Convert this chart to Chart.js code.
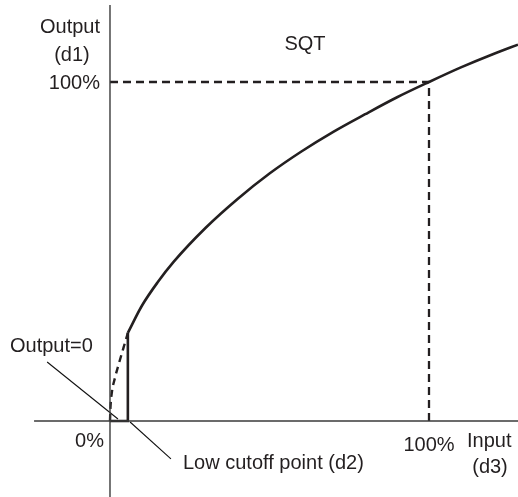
<!DOCTYPE html>
<html lang="en">
<head>
  <meta charset="UTF-8" />
  <title>SQT</title>
  <script src="https://cdn.jsdelivr.net/npm/chart.js"></script>
  <style>
    html, body { margin: 0; padding: 0; background: #fff; }
    canvas { display: block; }
  </style>
</head>
<body>
  <canvas id="sqtChart" width="518" height="497"></canvas>

  <script>
    // Square root characteristic: input % -> output %
    const curveIn  = [5.6, 10, 15, 20, 30, 40, 50, 60, 70, 80, 90, 100, 110, 120, 127.9];
    const curveOut = [26, 34, 41, 47, 57, 65.5, 73, 79.5, 85.3, 90.5, 95.5, 100, 104.3, 108.2, 111];

    // Part below the low cutoff (not used, shown dashed)
    const belowIn  = [0, 0.15, 0.6, 1.5, 2.8, 4.2, 5.6];
    const belowOut = [0, 4, 8.5, 12.5, 17, 21.5, 26];

    // Low cutoff point (d2): output is forced to 0 up to here
    const cutoffIn = 5.6;
    const cutoffOut = 26;

    // 100% reference
    const fullScale = 100;

    // Plot window in percent
    const xRange = [-34.48, 127.9];
    const yRange = [-22.42, 124.19];

    // Axis line ends
    const xAxisFrom = -23.8;
    const yAxisTop = 122.7;

    // Leader lines for the two callouts
    const leaderZeroIn  = [-19.7, 2.5];
    const leaderZeroOut = [17.4, 0.6];
    const leaderCutIn   = [6.3, 19.1];
    const leaderCutOut  = [-0.3, -11.2];

    const ink = '#231f20';

    function pts(xs, ys) {
      return xs.map((x, i) => ({ x: x, y: ys[i] }));
    }

    function seg(data, width, dash, color) {
      return {
        data: data,
        showLine: true,
        borderColor: color || ink,
        borderWidth: width,
        borderDash: dash || [],
        pointRadius: 0,
        clip: false,
      };
    }

    const datasets = [
      // axes
      seg([{ x: xAxisFrom, y: 0 }, { x: xRange[1], y: 0 }], 1.4, [], '#3a3a3a'),
      seg([{ x: 0, y: yRange[0] }, { x: 0, y: yAxisTop }], 1.4, [], '#3a3a3a'),
      // 100% guides
      seg([{ x: 0, y: fullScale }, { x: fullScale, y: fullScale }], 2.3, [8, 5]),
      seg([{ x: fullScale, y: 0 }, { x: fullScale, y: fullScale }], 2.3, [8, 5]),
      // dashed part of the root curve
      Object.assign(seg(pts(belowIn, belowOut), 2.4, [7, 5]), { cubicInterpolationMode: 'monotone' }),
      // output = 0 segment and jump at the cutoff
      seg([{ x: 0, y: 0 }, { x: cutoffIn, y: 0 }, { x: cutoffIn, y: cutoffOut }], 2.6),
      // main curve
      Object.assign(seg(pts(curveIn, curveOut), 2.6), { cubicInterpolationMode: 'monotone' }),
      // leaders
      seg(pts(leaderZeroIn, leaderZeroOut), 1.1, [], '#111'),
      seg(pts(leaderCutIn, leaderCutOut), 1.1, [], '#111'),
    ];

    // Text labels placed relative to the scales
    const labelsPlugin = {
      id: 'sqtLabels',
      afterDatasetsDraw(chart) {
        const ctx = chart.ctx;
        const xs = chart.scales.x;
        const ys = chart.scales.y;
        const x0 = xs.getPixelForValue(0);
        const y0 = ys.getPixelForValue(0);
        const x100 = xs.getPixelForValue(fullScale);
        const y100 = ys.getPixelForValue(fullScale);

        ctx.save();
        ctx.fillStyle = ink;
        ctx.font = '20px "Liberation Sans", Arial, sans-serif';
        ctx.textBaseline = 'middle';

        const put = (t, x, y, align) => {
          ctx.textAlign = align;
          ctx.fillText(t, x, y);
        };

        put('Output', x0 - 40, 27, 'center');
        put('(d1)', x0 - 38, 55, 'center');
        put('100%', x0 - 10, y100 + 1, 'right');
        put('SQT', 305, 44, 'center');
        put('Output=0', 10, 346, 'left');
        put('0%', x0 - 6, y0 + 20, 'right');
        put('100%', x100, y0 + 24, 'center');
        put('Input', 467, y0 + 20, 'left');
        put('(d3)', 490, y0 + 46, 'center');
        put('Low cutoff point (d2)', 183, y0 + 42, 'left');
        ctx.restore();
      },
    };

    new Chart(document.getElementById('sqtChart'), {
      type: 'scatter',
      data: { datasets: datasets },
      options: {
        responsive: false,
        animation: false,
        layout: { padding: 0 },
        plugins: {
          legend: { display: false },
          tooltip: { enabled: false },
        },
        scales: {
          x: { type: 'linear', min: xRange[0], max: xRange[1], display: false },
          y: { type: 'linear', min: yRange[0], max: yRange[1], display: false },
        },
      },
      plugins: [labelsPlugin],
    });
  </script>
</body>
</html>
